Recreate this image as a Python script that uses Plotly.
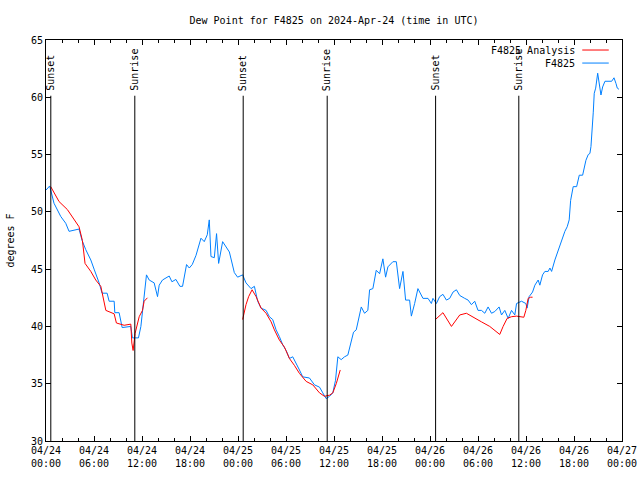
import pandas as pd
import plotly.graph_objects as go

BASE = pd.Timestamp("2024-04-24 00:00")

# Observed dew point (hours since 04/24 00:00 UTC, degrees F)
obs_hours = [0.0, 0.46, 1.0, 1.41, 1.84, 2.47, 2.88, 4.13, 4.51, 4.97, 5.6, 6.01, 6.64, 7.01, 7.64, 7.89,
             8.52, 8.6, 9.14, 9.52, 10.6, 10.8, 11.56, 11.86, 12.27, 12.56, 12.9, 13.52, 13.94, 14.15,
             14.56, 15.4, 15.74, 16.24, 16.74, 17.07, 17.57, 17.91, 18.28, 18.75, 19.37, 19.78, 20.16,
             20.41, 20.62, 21.04, 21.32, 21.58, 22.08, 22.92, 23.54, 23.95, 24.58, 25.0, 25.63, 26.05,
             26.46, 26.88, 27.51, 27.92, 28.34, 28.76, 29.18, 29.59, 30.02, 30.43, 30.84, 31.27, 31.68,
             32.09, 32.93, 33.56, 34.19, 34.6, 35.02, 35.44, 35.85, 36.19, 36.48, 36.9, 37.32, 37.73,
             38.03, 38.44, 38.78, 39.11, 39.41, 39.82, 40.23, 40.45, 40.86, 41.28, 41.7, 42.11, 42.45,
             42.74, 43.36, 43.79, 44.2, 44.62, 44.95, 45.45, 45.67, 46.08, 46.49, 47.12, 47.75, 48.17,
             48.37, 48.8, 49.21, 49.62, 50.05, 50.46, 50.88, 51.3, 51.72, 52.34, 52.76, 53.18, 53.59,
             54.0, 54.43, 54.85, 55.26, 55.69, 56.1, 56.64, 56.94, 57.35, 57.77, 58.19, 58.6, 58.82,
             59.44, 59.98, 60.14, 60.39, 60.82, 61.11, 61.52, 61.73, 62.07, 62.36, 62.77, 62.99, 63.2,
             63.61, 63.9, 64.24, 64.58, 64.86, 65.15, 65.4, 65.58, 65.9, 66.33, 66.53, 66.66, 67.08,
             67.24, 67.49, 67.78, 67.99, 68.12, 68.28, 68.41, 68.53, 68.71, 68.96, 69.16, 69.37, 69.58,
             69.87, 70.71, 71.0, 71.25, 71.41, 71.62]
obs_values = [51.9, 52.26, 50.75, 50.2, 49.6, 49.0, 48.3, 48.5, 47.5, 46.7, 45.8, 45.0, 43.8, 42.9, 42.9, 42.2,
              42.2, 41.2, 41.2, 39.9, 40.0, 39.0, 39.0, 40.0, 42.6, 44.5, 44.05, 43.8, 42.6, 43.6,
              44.05, 44.4, 43.9, 44.1, 43.5, 43.5, 45.4, 45.1, 45.4, 46.2, 47.7, 47.4, 48.0,
              49.3, 46.1, 46.0, 48.1, 45.5, 47.4, 46.5, 44.7, 44.3, 44.5, 43.8, 43.3, 43.5,
              42.2, 41.6, 41.4, 40.85, 40.6, 39.7, 39.1, 38.4, 37.9, 37.2, 37.35, 36.8, 36.2,
              35.6, 35.5, 34.9, 34.7, 34.2, 33.7, 33.9, 34.2, 35.3, 37.35, 37.1, 37.35, 37.5,
              38.4, 39.5, 39.7, 40.85, 41.7, 41.15, 41.4, 43.2, 43.3, 44.9, 44.6, 45.9, 44.3,
              45.2, 45.65, 45.65, 43.3, 44.8, 42.3, 42.3, 40.9, 42.0, 43.3, 42.45, 42.45, 42.0,
              42.45, 42.0, 42.6, 42.8, 42.3, 42.45, 43.0, 43.2, 42.7, 42.45, 42.3, 41.9, 42.2,
              41.4, 41.4, 41.15, 41.7, 41.15, 41.3, 41.7, 41.0, 41.4, 40.7, 41.4, 41.0, 42.0,
              42.2, 42.0, 41.6, 42.6, 43.0, 43.6, 44.05, 43.6, 44.5, 44.8, 44.8, 45.1, 44.8,
              45.8, 46.4, 47.1, 47.7, 48.3, 48.7, 49.3, 51.0, 52.2, 52.2, 52.8, 53.2, 53.2,
              53.8, 54.5, 55.0, 55.1, 55.7, 57.0, 58.7, 60.35, 60.8, 62.1, 61.2, 60.2, 60.9,
              61.4, 61.4, 61.7, 61.2, 60.8, 60.7]

# Analysis dew point (three separate runs, None = gap)
ana_hours = [0.59, 1.63, 2.67, 3.51, 4.13, 4.55, 4.88, 5.6, 6.22, 6.85, 7.48, 8.52, 8.8, 9.77, 10.6, 10.73,
             10.89, 11.14, 11.65, 12.06, 12.27, 12.68, 12.7,
             24.58, 25.0, 25.33, 25.76, 26.26, 26.88, 27.51, 28.14, 28.55, 29.18, 29.8, 30.43, 31.05,
             31.68, 32.52, 33.35, 34.19, 34.81, 35.44, 35.85, 36.28, 36.78, 36.8,
             48.67, 49.62, 50.68, 51.72, 52.55, 53.38, 54.43, 55.47, 56.72, 57.14, 57.64, 58.19, 58.82,
             59.73, 59.98, 60.27, 60.57, 60.82]
ana_values = [52.2, 50.9, 50.2, 49.4, 48.7, 47.5, 45.5, 44.8, 44.05, 43.5, 41.4, 41.1, 40.3, 40.1, 40.2, 38.55,
              37.9, 39.4, 40.85, 41.4, 42.2, 42.5, None,
              40.6, 41.9, 42.6, 43.2, 42.6, 41.6, 41.15, 40.4, 39.7, 38.8, 38.2, 37.2, 36.6,
              35.9, 35.2, 34.9, 34.2, 33.9, 34.0, 34.2, 35.0, 36.2, None,
              40.6, 41.2, 40.0, 41.0, 41.15, 40.8, 40.4, 40.0, 39.3, 40.0, 40.7, 40.85, 40.9,
              40.8, 41.4, 42.45, 42.55, 42.55]

# Sun events (hours since 04/24 00:00 UTC)
sun_hours = [0.6, 11.1, 24.65, 35.15, 48.7, 59.1]
sun_labels = ["Sunset", "Sunrise", "Sunset", "Sunrise", "Sunset", "Sunrise"]

series_names = ["F4825 Analysis", "F4825"]
series_colors = ["#ff0000", "#0080ff"]

FONT = "DejaVu Sans Mono"


def to_time(hours):
    return [BASE + pd.Timedelta(hours=h) for h in hours]


fig = go.Figure()
fig.add_trace(go.Scatter(x=to_time(obs_hours), y=obs_values, mode="lines",
                         line=dict(color=series_colors[1], width=1), name=series_names[1],
                         showlegend=False))
fig.add_trace(go.Scatter(x=to_time(ana_hours), y=ana_values, mode="lines",
                         line=dict(color=series_colors[0], width=1), name=series_names[0],
                         connectgaps=False, showlegend=False))

for h, lab in zip(sun_hours, sun_labels):
    t = BASE + pd.Timedelta(hours=h)
    fig.add_shape(type="line", xref="x", yref="paper", x0=t, x1=t, y0=0, y1=0.861,
                  line=dict(color="black", width=1))
    fig.add_annotation(x=t, xref="x", y=0.868, yref="paper", text=lab, textangle=-90,
                       showarrow=False, xanchor="center", yanchor="bottom",
                       font=dict(family=FONT, size=10, color="black"))

# custom legend (text left of sample line, gnuplot style)
for i, (nm, col) in enumerate(zip(series_names, series_colors)):
    yp = 0.975 - i * 0.0325
    fig.add_annotation(x=0.922, y=yp, xref="paper", yref="paper", text=nm, showarrow=False,
                       xanchor="right", yanchor="middle",
                       font=dict(family=FONT, size=10, color="black"))
    fig.add_shape(type="line", xref="paper", yref="paper", x0=0.931, x1=0.977, y0=yp, y1=yp,
                  line=dict(color=col, width=1))

fig.update_layout(
    width=640, height=480,
    margin=dict(l=46, r=18, t=40, b=39, autoexpand=False),
    paper_bgcolor="white", plot_bgcolor="white",
    font=dict(family=FONT, size=10, color="black"),
    title=dict(text="Dew Point for F4825 on 2024-Apr-24 (time in UTC)", x=0.5, xref="paper",
               xanchor="center", y=0.958, yanchor="middle", font=dict(family=FONT, size=10)),
    showlegend=False,
)
fig.update_xaxes(
    type="date", range=[BASE, BASE + pd.Timedelta(hours=72)],
    dtick=6 * 3600 * 1000, tick0=BASE, tickformat="%m/%d<br>%H:%M",
    ticks="inside", ticklen=5, tickcolor="black", showline=True, linecolor="black",
    linewidth=1, mirror="allticks", showgrid=False, zeroline=False,
    minor=dict(dtick=2 * 3600 * 1000, ticks="inside", ticklen=3, tickcolor="black", showgrid=False),
    tickfont=dict(family=FONT, size=10),
)
fig.update_yaxes(
    range=[30, 65], dtick=5, ticks="inside", ticklen=5, tickcolor="black", showline=True,
    linecolor="black", linewidth=1, mirror="allticks", showgrid=False, zeroline=False,
    title=dict(text="degrees F", font=dict(family=FONT, size=10), standoff=14),
    tickfont=dict(family=FONT, size=10),
)

fig.write_html(
    "out.html",
    config={"displayModeBar": False},
    post_script="document.body.style.margin='0';document.body.style.overflow='hidden';",
)
